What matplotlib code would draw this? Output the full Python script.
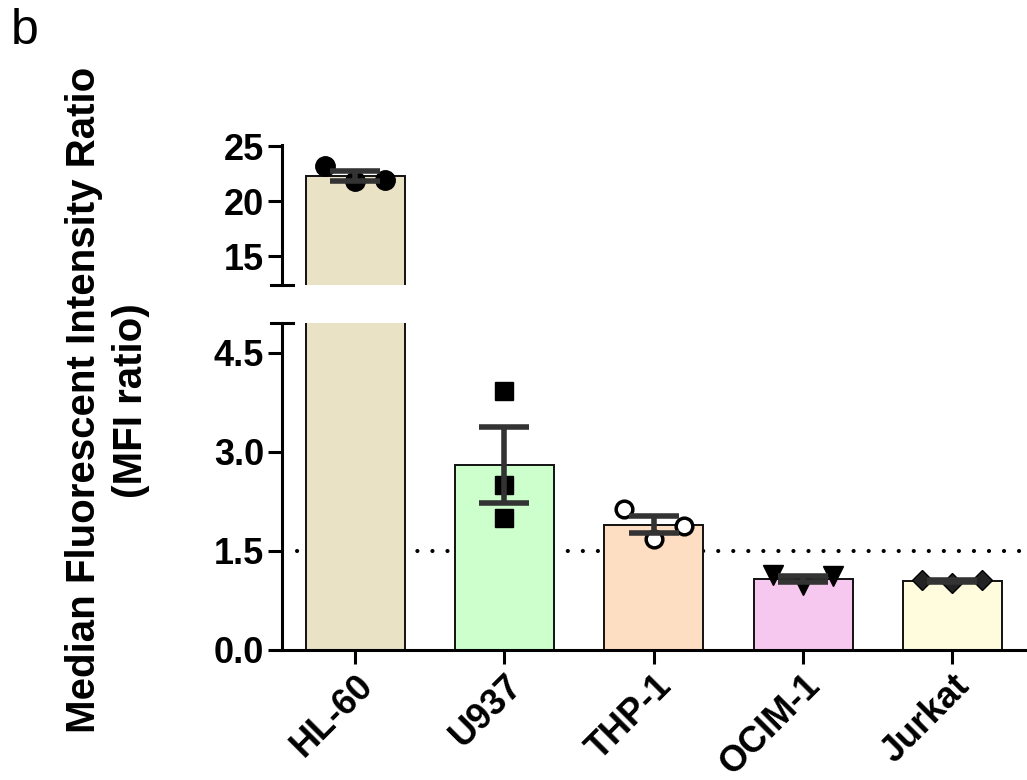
import numpy as np
import matplotlib
matplotlib.use("Agg")
from matplotlib import pyplot as plt

# cell lines and the three replicate MFI ratios for each
cell_lines = ["HL-60", "U937", "THP-1", "OCIM-1", "Jurkat"]
hl60 = [23.2, 21.8, 21.95]
u937 = [3.92, 2.50, 2.00]
thp1 = [2.13, 1.68, 1.88]
ocim1 = [1.13, 0.98, 1.12]
jurkat = [1.06, 1.02, 1.06]
threshold = 1.5

groups = [hl60, u937, thp1, ocim1, jurkat]
bar_colors = ["#E9E2C5", "#CCFFCC", "#FDDEC2", "#F6C8F0", "#FFFCDD"]
markers = [("o", "k", 14), ("s", "k", 13), ("o", "w", 12), ("v", "k", 14), ("D", "#222222", 10)]
spread = [[-0.2, 0.0, 0.2], [0.0, 0.0, 0.0], [-0.2, 0.0, 0.2], [-0.2, 0.0, 0.2], [-0.2, 0.0, 0.2]]

plt.rcParams["font.family"] = ["Liberation Sans", "DejaVu Sans"]
plt.rcParams["font.weight"] = "bold"

fig = plt.figure(figsize=(10.27, 7.8), dpi=100)
ax_top = fig.add_axes([0.2746, 0.6346, 0.7254, 0.1795])
ax_bot = fig.add_axes([0.2746, 0.1667, 0.7254, 0.4192])

x = np.arange(len(cell_lines))
means = np.array([np.mean(g) for g in groups])
sems = np.array([np.std(g, ddof=1) / np.sqrt(len(g)) for g in groups])

for ax in (ax_top, ax_bot):
    ax.bar(x, means, width=0.663, color=bar_colors, edgecolor="#111111", linewidth=1.4, zorder=2)
    for i, g in enumerate(groups):
        m, fc, ms = markers[i]
        ax.plot(x[i] + np.array(spread[i]), g, linestyle="none", marker=m,
                markerfacecolor=fc, markeredgecolor="k", markersize=ms,
                markeredgewidth=2.5 if fc == "w" else 1, zorder=3)
    ax.errorbar(x, means, yerr=sems, fmt="none", ecolor="#333333",
                elinewidth=4, capsize=18, capthick=4, zorder=4)
    ax.set_xlim(-0.49, 4.5)
    ax.spines["top"].set_visible(False)
    ax.spines["right"].set_visible(False)
    ax.spines["left"].set_linewidth(2.2)
    ax.spines["bottom"].set_linewidth(2.2)
    ax.tick_params(axis="both", width=2.2, length=10, labelsize=26, pad=3)

# dotted threshold line
ax_bot.axhline(threshold, color="k", linewidth=3, linestyle=(0, (0.01, 3.6)),
               dash_capstyle="round", zorder=1)

ax_top.set_ylim(12.4, 25.1)
ax_top.set_yticks([15, 20, 25])
ax_top.spines["bottom"].set_visible(False)
ax_top.set_xticks([])

ax_bot.set_ylim(0, 4.95)
ax_bot.set_yticks([0, 1.5, 3.0, 4.5])
ax_bot.set_yticklabels(["0.0", "1.5", "3.0", "4.5"])
ax_bot.set_xticks(x)
ax_bot.set_xticklabels(cell_lines, rotation=45, ha="right", va="top",
                       rotation_mode="anchor", fontsize=26)

# axis break caps
ax_top.plot([-0.015, 0.015], [0, 0], transform=ax_top.transAxes, color="k",
            linewidth=2.2, clip_on=False)
ax_bot.plot([-0.015, 0.015], [1, 1], transform=ax_bot.transAxes, color="k",
            linewidth=2.2, clip_on=False)

fig.text(0.105, 0.487, "Median Fluorescent Intensity Ratio\n(MFI ratio)",
         rotation=90, ha="center", va="center", multialignment="center",
         fontsize=29, fontweight="bold", linespacing=1.3)
fig.text(0.01, 0.99, "b", fontsize=36, fontweight="normal", va="top", ha="left")

fig.savefig("out.png", dpi=100)
